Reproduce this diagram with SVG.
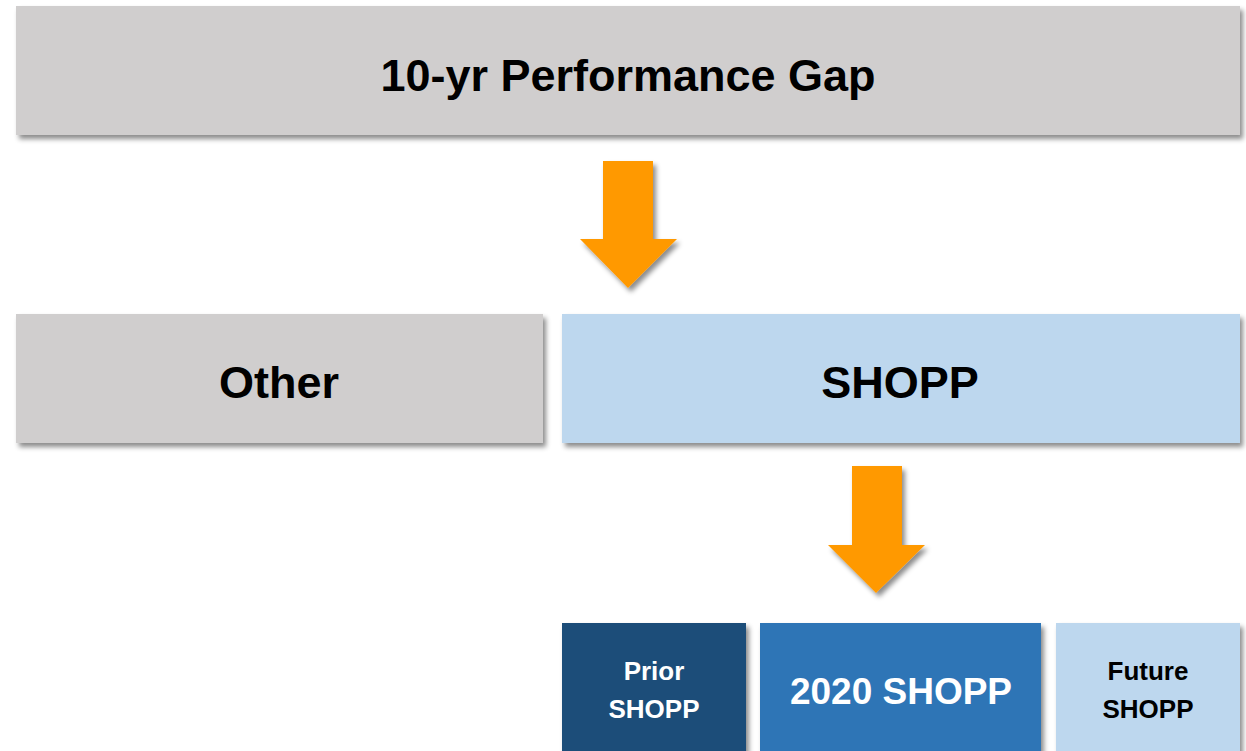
<svg xmlns="http://www.w3.org/2000/svg" width="1246" height="751" viewBox="0 0 1246 751">
<defs>
<filter id="sh" x="-10%" y="-10%" width="120%" height="130%">
<feDropShadow dx="3" dy="4" stdDeviation="2.5" flood-color="#000" flood-opacity="0.45"/>
</filter>
<style>
.t{font-family:"Liberation Sans",Arial,sans-serif;font-weight:bold;text-anchor:middle}
.gray{fill:#D0CECE}
.lb{fill:#BDD7EE}
.arr{fill:#FF9900}
</style>
</defs>
<rect width="1246" height="751" fill="#FFFFFF"/>
<g id="gap">
<rect class="gray" x="16" y="6" width="1224" height="129" filter="url(#sh)"/>
<text class="t" x="628" y="91" font-size="45" fill="#000">10-yr Performance Gap</text>
</g>
<g id="other">
<rect class="gray" x="16" y="314" width="527" height="129" filter="url(#sh)"/>
<text class="t" x="279" y="398" font-size="45" fill="#000">Other</text>
</g>
<g id="shopp">
<rect class="lb" x="562" y="314" width="678" height="129" filter="url(#sh)"/>
<text class="t" x="900" y="398" font-size="45" fill="#000">SHOPP</text>
</g>
<g id="prior">
<rect x="562" y="623" width="184" height="140" fill="#1F4E79" filter="url(#sh)"/>
<text class="t" x="654" y="680" font-size="26" fill="#FFF">Prior</text>
<text class="t" x="654" y="718" font-size="26" fill="#FFF">SHOPP</text>
</g>
<g id="s2020">
<rect x="760" y="623" width="281" height="140" fill="#2E75B6" filter="url(#sh)"/>
<text class="t" x="901" y="704" font-size="37" fill="#FFF">2020 SHOPP</text>
</g>
<g id="future">
<rect class="lb" x="1056" y="623" width="184" height="140" filter="url(#sh)"/>
<text class="t" x="1148" y="680" font-size="26" fill="#000">Future</text>
<text class="t" x="1148" y="718" font-size="26" fill="#000">SHOPP</text>
</g>
<g id="connectors">
<polygon class="arr" points="603,161 653,161 653,239 677,239 628,288 580,239 603,239" filter="url(#sh)"/>
<polygon class="arr" points="852,466 902,466 902,545 925,545 876,593 828,545 852,545" filter="url(#sh)"/>
</g>
</svg>
